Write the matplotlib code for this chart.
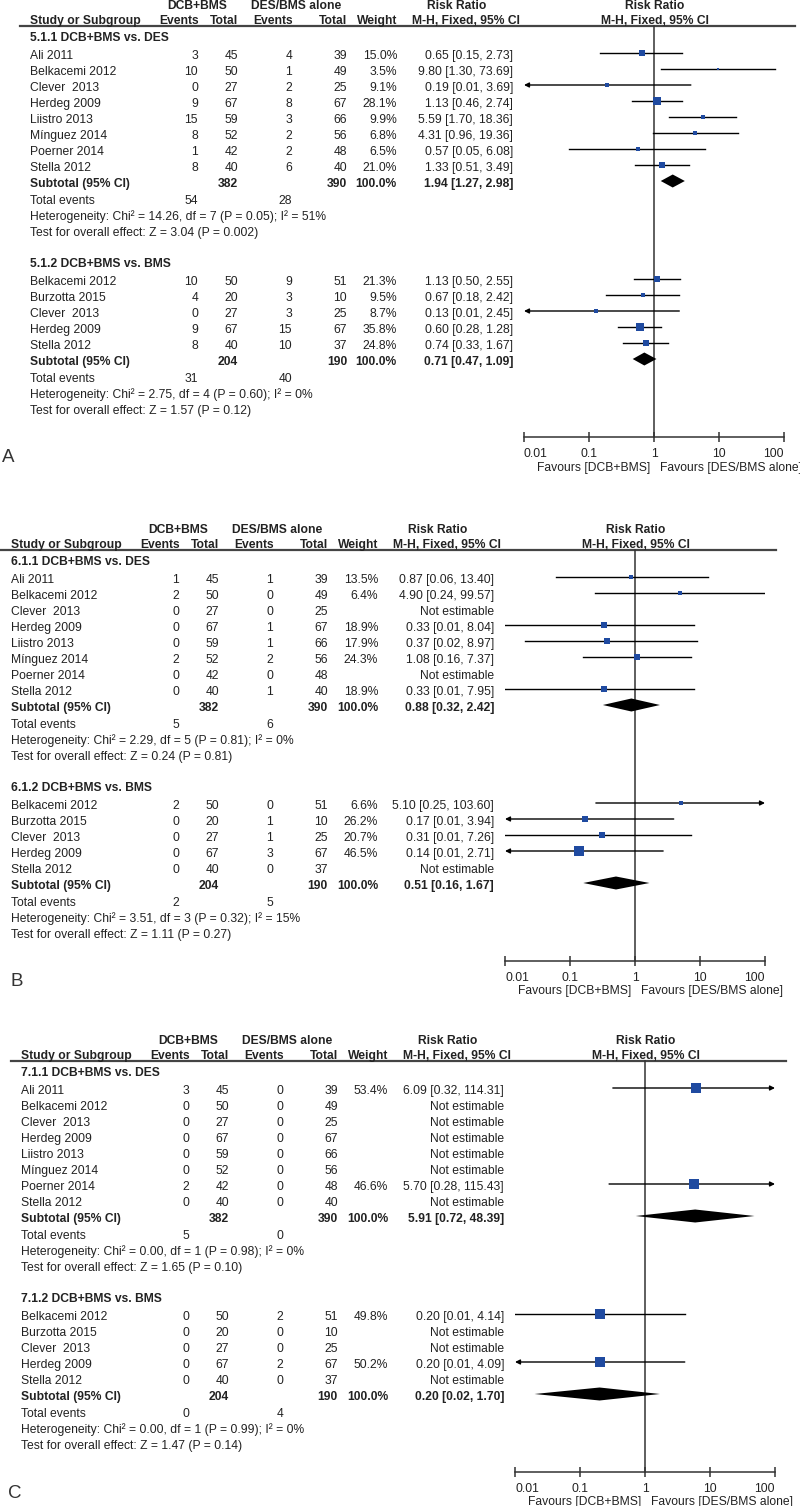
import matplotlib
matplotlib.use("Agg")
import numpy as np
import matplotlib.pyplot as plt
from matplotlib.ticker import NullLocator

plt.rcParams['font.family'] = ['Liberation Sans', 'DejaVu Sans']

# ---- shared study info ----
studies_des = ["Ali 2011", "Belkacemi 2012", "Clever  2013", "Herdeg 2009",
               "Liistro 2013", "Mínguez 2014", "Poerner 2014", "Stella 2012"]
studies_bms = ["Belkacemi 2012", "Burzotta 2015", "Clever  2013", "Herdeg 2009", "Stella 2012"]
n1_des = [45, 50, 27, 67, 59, 52, 42, 40]
n2_des = [39, 49, 25, 67, 66, 56, 48, 40]
n1_bms = [50, 20, 27, 67, 40]
n2_bms = [51, 10, 25, 67, 37]
tot_des = [382, 390]
tot_bms = [204, 190]

# ---- panel A ----
a_des_e1 = [3, 10, 0, 9, 15, 8, 1, 8]
a_des_e2 = [4, 1, 2, 8, 3, 2, 2, 6]
a_des_w = [15.0, 3.5, 9.1, 28.1, 9.9, 6.8, 6.5, 21.0]
a_des_rr = [0.65, 9.80, 0.19, 1.13, 5.59, 4.31, 0.57, 1.33]
a_des_lo = [0.15, 1.30, 0.01, 0.46, 1.70, 0.96, 0.05, 0.51]
a_des_hi = [2.73, 73.69, 3.69, 2.74, 18.36, 19.36, 6.08, 3.49]
a_des_arrow = ["", "", "<", "", "", "", "", ""]
a_des_sub = [1.94, 1.27, 2.98]
a_des_ev = [54, 28]
a_des_het = "Heterogeneity: Chi² = 14.26, df = 7 (P = 0.05); I² = 51%"
a_des_z = "Test for overall effect: Z = 3.04 (P = 0.002)"

a_bms_e1 = [10, 4, 0, 9, 8]
a_bms_e2 = [9, 3, 3, 15, 10]
a_bms_w = [21.3, 9.5, 8.7, 35.8, 24.8]
a_bms_rr = [1.13, 0.67, 0.13, 0.60, 0.74]
a_bms_lo = [0.50, 0.18, 0.01, 0.28, 0.33]
a_bms_hi = [2.55, 2.42, 2.45, 1.28, 1.67]
a_bms_arrow = ["", "", "<", "", ""]
a_bms_sub = [0.71, 0.47, 1.09]
a_bms_ev = [31, 40]
a_bms_het = "Heterogeneity: Chi² = 2.75, df = 4 (P = 0.60); I² = 0%"
a_bms_z = "Test for overall effect: Z = 1.57 (P = 0.12)"

# ---- panel B ----
b_des_e1 = [1, 2, 0, 0, 0, 2, 0, 0]
b_des_e2 = [1, 0, 0, 1, 1, 2, 0, 1]
b_des_w = [13.5, 6.4, None, 18.9, 17.9, 24.3, None, 18.9]
b_des_rr = [0.87, 4.90, None, 0.33, 0.37, 1.08, None, 0.33]
b_des_lo = [0.06, 0.24, None, 0.01, 0.02, 0.16, None, 0.01]
b_des_hi = [13.40, 99.57, None, 8.04, 8.97, 7.37, None, 7.95]
b_des_arrow = ["", "", "", "", "", "", "", ""]
b_des_sub = [0.88, 0.32, 2.42]
b_des_ev = [5, 6]
b_des_het = "Heterogeneity: Chi² = 2.29, df = 5 (P = 0.81); I² = 0%"
b_des_z = "Test for overall effect: Z = 0.24 (P = 0.81)"

b_bms_e1 = [2, 0, 0, 0, 0]
b_bms_e2 = [0, 1, 1, 3, 0]
b_bms_w = [6.6, 26.2, 20.7, 46.5, None]
b_bms_rr = [5.10, 0.17, 0.31, 0.14, None]
b_bms_lo = [0.25, 0.01, 0.01, 0.01, None]
b_bms_hi = [103.60, 3.94, 7.26, 2.71, None]
b_bms_arrow = [">", "<", "", "<", ""]
b_bms_sub = [0.51, 0.16, 1.67]
b_bms_ev = [2, 5]
b_bms_het = "Heterogeneity: Chi² = 3.51, df = 3 (P = 0.32); I² = 15%"
b_bms_z = "Test for overall effect: Z = 1.11 (P = 0.27)"

# ---- panel C ----
c_des_e1 = [3, 0, 0, 0, 0, 0, 2, 0]
c_des_e2 = [0, 0, 0, 0, 0, 0, 0, 0]
c_des_w = [53.4, None, None, None, None, None, 46.6, None]
c_des_rr = [6.09, None, None, None, None, None, 5.70, None]
c_des_lo = [0.32, None, None, None, None, None, 0.28, None]
c_des_hi = [114.31, None, None, None, None, None, 115.43, None]
c_des_arrow = [">", "", "", "", "", "", ">", ""]
c_des_sub = [5.91, 0.72, 48.39]
c_des_ev = [5, 0]
c_des_het = "Heterogeneity: Chi² = 0.00, df = 1 (P = 0.98); I² = 0%"
c_des_z = "Test for overall effect: Z = 1.65 (P = 0.10)"

c_bms_e1 = [0, 0, 0, 0, 0]
c_bms_e2 = [2, 0, 0, 2, 0]
c_bms_w = [49.8, None, None, 50.2, None]
c_bms_rr = [0.20, None, None, 0.20, None]
c_bms_lo = [0.01, None, None, 0.01, None]
c_bms_hi = [4.14, None, None, 4.09, None]
c_bms_arrow = ["", "", "", "<", ""]
c_bms_sub = [0.20, 0.02, 1.70]
c_bms_ev = [0, 4]
c_bms_het = "Heterogeneity: Chi² = 0.00, df = 1 (P = 0.99); I² = 0%"
c_bms_z = "Test for overall effect: Z = 1.47 (P = 0.14)"

FIG_W, FIG_H = 800, 1506
PH = 480
FS = 8.7
TC = "#222222"
BLUE = "#1f4aa0"

fig = plt.figure(figsize=(FIG_W / 100, FIG_H / 100), dpi=100)


def txt(ax, x, y, s, ha="left", bold=False, **kw):
    ax.text(x, y + 4.3, s, ha=ha, va="baseline", fontsize=FS, color=TC,
            fontweight="bold" if bold else "normal", **kw)


def group(title, studies, n1, n2, tot, e1, e2, w, rr, lo, hi, arrow, sub, ev, het, z):
    return dict(title=title, studies=studies, n1=n1, n2=n2, tot=tot, e1=e1, e2=e2, w=w,
                rr=rr, lo=lo, hi=hi, arrow=arrow, sub=sub, ev=ev, het=het, z=z)


def draw_panel(top, shift, letter, letter_x, groups):
    bottom = 1 - (top + PH) / FIG_H
    ax = fig.add_axes([0, bottom, 1, PH / FIG_H])
    ax.set_xlim(-shift, FIG_W - shift)
    ax.set_ylim(PH, 0)
    ax.axis("off")

    fx = fig.add_axes([(524 + shift) / FIG_W, bottom, 260 / FIG_W, PH / FIG_H])
    fx.set_xscale("log")
    fx.set_xlim(0.01, 100)
    fx.set_ylim(PH, 0)
    fx.patch.set_alpha(0)
    for s in ["left", "right", "top"]:
        fx.spines[s].set_visible(False)
    fx.spines["bottom"].set_position(("data", 437))
    fx.spines["bottom"].set_linewidth(1.1)
    fx.spines["bottom"].set_color("#333333")
    fx.set_yticks([])
    fx.set_xticks([0.01, 0.1, 1, 10, 100])
    fx.set_xticklabels(["0.01", "0.1", "1", "10", "100"])
    fx.xaxis.set_minor_locator(NullLocator())
    fx.tick_params(axis="x", direction="inout", length=7, width=1.1, pad=4.5,
                   labelsize=FS, colors="#333333", labelcolor=TC)
    labs = fx.get_xticklabels()
    labs[0].set_ha("left")
    labs[-1].set_ha("right")

    # header
    txt(ax, 197, 5, "DCB+BMS", "center", True)
    txt(ax, 296, 5, "DES/BMS alone", "center", True)
    txt(ax, 457, 5, "Risk Ratio", "center", True)
    txt(ax, 655, 5, "Risk Ratio", "center", True)
    txt(ax, 30, 20, "Study or Subgroup", "left", True)
    txt(ax, 199, 20, "Events", "right", True)
    txt(ax, 238, 20, "Total", "right", True)
    txt(ax, 293, 20, "Events", "right", True)
    txt(ax, 347, 20, "Total", "right", True)
    txt(ax, 397, 20, "Weight", "right", True)
    txt(ax, 466, 20, "M-H, Fixed, 95% CI", "center", True)
    txt(ax, 655, 20, "M-H, Fixed, 95% CI", "center", True)
    ax.plot([20, 795], [26, 26], color="#444444", lw=1.6)
    fx.plot([1, 1], [26, 437], color="#333333", lw=1.1)

    g0 = 37
    for g in groups:
        txt(ax, 30, g0, g["title"], "left", True)
        y = g0 + 18
        for i, name in enumerate(g["studies"]):
            txt(ax, 30, y, name)
            txt(ax, 198, y, str(g["e1"][i]), "right")
            txt(ax, 238, y, str(g["n1"][i]), "right")
            txt(ax, 292, y, str(g["e2"][i]), "right")
            txt(ax, 347, y, str(g["n2"][i]), "right")
            rr = g["rr"][i]
            if rr is None:
                txt(ax, 513, y, "Not estimable", "right")
            else:
                lo, hi, w = g["lo"][i], g["hi"][i], g["w"][i]
                txt(ax, 397, y, f"{w:.1f}%", "right")
                txt(ax, 513, y, f"{rr:.2f} [{lo:.2f}, {hi:.2f}]", "right")
                my = y - 2
                arr = g["arrow"][i]
                if arr == "<":
                    fx.annotate("", xy=(0.01, my), xytext=(hi, my), annotation_clip=False,
                                arrowprops=dict(arrowstyle="-|>", lw=1.0, color="k",
                                                shrinkA=0, shrinkB=0, mutation_scale=7))
                elif arr == ">":
                    fx.annotate("", xy=(100, my), xytext=(lo, my), annotation_clip=False,
                                arrowprops=dict(arrowstyle="-|>", lw=1.0, color="k",
                                                shrinkA=0, shrinkB=0, mutation_scale=7))
                else:
                    fx.plot([lo, hi], [my, my], color="k", lw=1.0)
                side = 1.35 * np.sqrt(w) * 0.72
                fx.plot([rr], [my], marker="s", ms=side, color=BLUE, mec=BLUE,
                        mew=0, clip_on=False, zorder=3)
            y += 16
        # subtotal
        txt(ax, 30, y, "Subtotal (95% CI)", "left", True)
        txt(ax, 238, y, str(g["tot"][0]), "right", True)
        txt(ax, 347, y, str(g["tot"][1]), "right", True)
        txt(ax, 397, y, "100.0%", "right", True)
        srr, slo, shi = g["sub"]
        txt(ax, 513, y, f"{srr:.2f} [{slo:.2f}, {shi:.2f}]", "right", True)
        dy = y - 2
        fx.fill([slo, srr, shi, srr], [dy, dy - 6.5, dy, dy + 6.5], color="k", lw=0, zorder=3)
        y += 17
        txt(ax, 30, y, "Total events")
        txt(ax, 198, y, str(g["ev"][0]), "right")
        txt(ax, 292, y, str(g["ev"][1]), "right")
        y += 16
        txt(ax, 30, y, g["het"])
        y += 16
        txt(ax, 30, y, g["z"])
        g0 = y + 31

    fx.annotate("Favours [DCB+BMS]", xy=(1, 466), xytext=(-3, 0), textcoords="offset points",
                ha="right", va="center_baseline", fontsize=FS, color=TC)
    fx.annotate("Favours [DES/BMS alone]", xy=(1, 466), xytext=(4.5, 0), textcoords="offset points",
                ha="left", va="center_baseline", fontsize=FS, color=TC)
    # panel letter placed in figure pixels
    ax.text(letter_x - shift, 458, letter, ha="left", va="center",
            fontsize=13.5, color="#333333")


draw_panel(0, 0, "A", 2, [
    group("5.1.1 DCB+BMS vs. DES", studies_des, n1_des, n2_des, tot_des, a_des_e1, a_des_e2,
          a_des_w, a_des_rr, a_des_lo, a_des_hi, a_des_arrow, a_des_sub, a_des_ev, a_des_het, a_des_z),
    group("5.1.2 DCB+BMS vs. BMS", studies_bms, n1_bms, n2_bms, tot_bms, a_bms_e1, a_bms_e2,
          a_bms_w, a_bms_rr, a_bms_lo, a_bms_hi, a_bms_arrow, a_bms_sub, a_bms_ev, a_bms_het, a_bms_z),
])
draw_panel(524, -19, "B", 10, [
    group("6.1.1 DCB+BMS vs. DES", studies_des, n1_des, n2_des, tot_des, b_des_e1, b_des_e2,
          b_des_w, b_des_rr, b_des_lo, b_des_hi, b_des_arrow, b_des_sub, b_des_ev, b_des_het, b_des_z),
    group("6.1.2 DCB+BMS vs. BMS", studies_bms, n1_bms, n2_bms, tot_bms, b_bms_e1, b_bms_e2,
          b_bms_w, b_bms_rr, b_bms_lo, b_bms_hi, b_bms_arrow, b_bms_sub, b_bms_ev, b_bms_het, b_bms_z),
])
draw_panel(1035, -9, "C", 8, [
    group("7.1.1 DCB+BMS vs. DES", studies_des, n1_des, n2_des, tot_des, c_des_e1, c_des_e2,
          c_des_w, c_des_rr, c_des_lo, c_des_hi, c_des_arrow, c_des_sub, c_des_ev, c_des_het, c_des_z),
    group("7.1.2 DCB+BMS vs. BMS", studies_bms, n1_bms, n2_bms, tot_bms, c_bms_e1, c_bms_e2,
          c_bms_w, c_bms_rr, c_bms_lo, c_bms_hi, c_bms_arrow, c_bms_sub, c_bms_ev, c_bms_het, c_bms_z),
])

fig.savefig("out.png", dpi=100)
